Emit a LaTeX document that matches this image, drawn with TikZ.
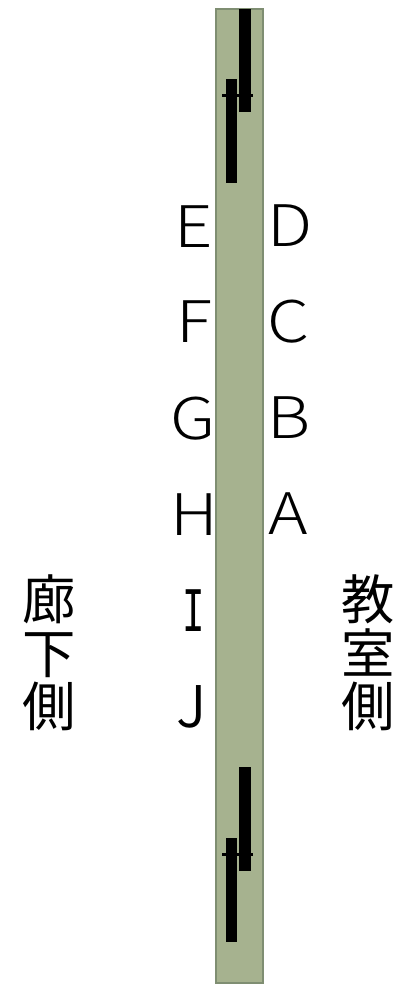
\documentclass[tikz,border=0pt]{standalone}
\usepackage{fontspec}
\setmainfont{DejaVu Sans}
\newfontfamily\latinface[FakeStretch=1.17]{Noto Sans CJK JP Light}
\newfontfamily\hookface{Noto Sans CJK JP DemiLight}
\newfontfamily\cjk{Noto Sans CJK JP}
\newfontfamily\slabface[FakeStretch=0.65]{DejaVu Sans Mono}
\definecolor{barfill}{HTML}{A6B28F}
\definecolor{barline}{HTML}{7F8E72}
\tikzset{
  latinlabel/.style={inner sep=0pt,anchor=center,font=\latinface\fontsize{43}{43}\selectfont},
  sidelabel/.style={inner sep=0pt,anchor=center,align=center,font=\cjk\fontsize{40}{40.2}\selectfont},
  panel/.style={fill=barfill,draw=barline,line width=1.9pt},
  doorbar/.style={fill=black,draw=none},
  tick/.style={draw=black,line width=2pt}
}
\begin{document}
\begin{tikzpicture}[x=0.75pt,y=-0.75pt]
\useasboundingbox (0,0) rectangle (398,984);
\path[panel] (216,9) rectangle (263,983);
\path[doorbar] (239,9) rectangle (250.5,112);
\path[doorbar] (225.5,79) rectangle (237,183);
\draw[tick] (222,95.5) -- (253,95.5);
\path[doorbar] (239,767) rectangle (250.5,871);
\path[doorbar] (225.5,838) rectangle (237,942);
\draw[tick] (222,854.5) -- (253,854.5);
\node[latinlabel] (E) at (194,227) {E};
\node[latinlabel] (D) at (290,226) {D};
\node[latinlabel] (F) at (194,322) {F};
\node[latinlabel] (C) at (289,322) {C};
\node[latinlabel] (G) at (193,419) {G};
\node[latinlabel] (B) at (289,418) {B};
\node[latinlabel] (H) at (194,515) {H};
\node[latinlabel] (A) at (288,514) {A};
\node[latinlabel,font=\slabface\fontsize{43}{43}\selectfont] (I) at (194,611) {I};
\node[latinlabel,font=\hookface\fontsize{43}{43}\selectfont] (J) at (192,707) {J};
\node[sidelabel] (left) at (49,653) {廊\\下\\側};
\node[sidelabel] (right) at (368,653) {教\\室\\側};
\end{tikzpicture}
\end{document}
